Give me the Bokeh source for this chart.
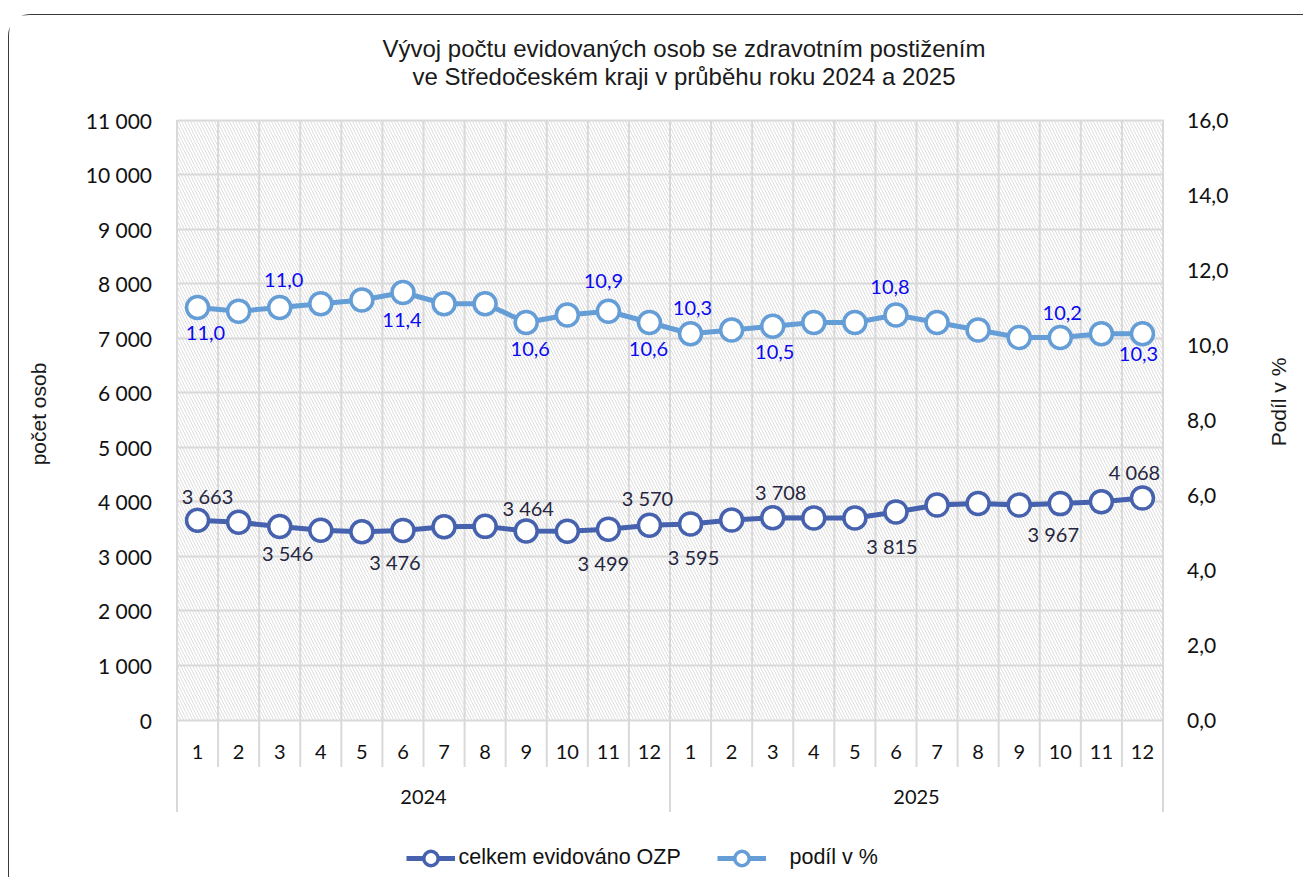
import numpy as np
from bokeh.plotting import figure
from bokeh.models import (Range1d, LinearAxis, FixedTicker, Grid, Legend, LegendItem)
from bokeh.core.properties import value
from bokeh.embed import file_html
from bokeh.resources import INLINE

# ---------------- data ----------------
years = ["2024", "2025"]
months = [str(m) for m in range(1, 13)]
ozp = [3663, 3624, 3546, 3480, 3452, 3476, 3544, 3550, 3464, 3460, 3499, 3570,
       3595, 3665, 3708, 3705, 3705, 3815, 3940, 3970, 3940, 3967, 4000, 4068]
podil = [11.0, 10.9, 11.0, 11.1, 11.2, 11.4, 11.1, 11.1, 10.6, 10.8, 10.9, 10.6,
         10.3, 10.4, 10.5, 10.6, 10.6, 10.8, 10.6, 10.4, 10.2, 10.2, 10.3, 10.3]
labelled = [0, 2, 5, 8, 10, 11, 12, 14, 17, 21, 23]
left_ticks = list(range(0, 11001, 1000))
right_ticks = [0, 2, 4, 6, 8, 10, 12, 14, 16]
series_names = ["celkem evidováno OZP", "podíl v %"]
axis_titles = ["počet osob", "Podíl v %"]
title_lines = ["Vývoj počtu evidovaných osob se zdravotním postižením",
               "ve Středočeském kraji v průběhu roku 2024 a 2025"]

# ---------------- styling / geometry ----------------
OX, OY = 9.5, 15.5            # page position of canvas origin
FIG_W, FIG_H = 1295, 863
PX_L, PX_R = 177, 1163        # plot area (page px)
PX_TOP, PX_ZERO = 120, 720
YMAX, Y2MAX = 11000, 16
n = len(ozp)
ppx = (PX_R - PX_L) / n
ppy = (PX_ZERO - PX_TOP) / YMAX
ppy2 = (PX_ZERO - PX_TOP) / Y2MAX

def xd(px):
    return (px - PX_L) / ppx

def yd(py):
    return (PX_ZERO - py) / ppy

ozp_off = [(10, -24), (8, 26), (-8, 32), (2, -23), (-5, 34), (-2, -27),
           (3, 33), (8, -26), (-4, 34), (-7, 30), (-8, -26)]
pod_off = [(8, 25), (4, -28), (-1, 27), (4, 26), (-5, -30), (-1, 26),
           (2, -26), (2, 26), (-6, -28), (2, -25), (-4, 20)]

C_DARK = "#4662AE"
C_LIGHT = "#659DD6"
C_GRID = "#D9D9D9"
CAL = "Lato"
ARIAL = "Liberation Sans"

frame_bot_page = OY + FIG_H
x_rng = Range1d(xd(OX), xd(OX + FIG_W))
y_rng = Range1d(yd(frame_bot_page), yd(OY))
y2_rng = Range1d((PX_ZERO - frame_bot_page) / ppy2, (PX_ZERO - OY) / ppy2)

p = figure(width=FIG_W, height=FIG_H, output_backend="svg", toolbar_location=None,
           x_range=x_rng, y_range=y_rng, title=None,
           x_axis_location=None, y_axis_location=None,
           min_border_left=0, min_border_right=0, min_border_top=0, min_border_bottom=0)
p.extra_y_ranges = {"pct": y2_rng}
p.outline_line_color = None
p.background_fill_color = "white"
p.border_fill_color = "white"
p.xgrid.visible = False
p.ygrid.visible = False
p.styles = {"border-top": "1.5px solid #3a3a3a", "border-left": "1.5px solid #3a3a3a",
            "border-top-left-radius": "22px", "margin-top": "14px", "margin-left": "8px"}

# axes (fixed at the plot-area edges)
la = LinearAxis(fixed_location=0, ticker=FixedTicker(ticks=left_ticks),
                major_label_overrides={t: (f"{t:,}".replace(",", " ")) for t in left_ticks})
ra = LinearAxis(fixed_location=n, y_range_name="pct", ticker=FixedTicker(ticks=right_ticks),
                major_label_overrides={t: f"{t:.1f}".replace(".", ",") for t in right_ticks})
for ax, st in ((la, 25), (ra, 24)):
    ax.axis_line_color = None
    ax.major_tick_line_color = None
    ax.minor_tick_line_color = None
    ax.major_tick_out = 0
    ax.major_tick_in = 0
    ax.minor_tick_out = 0
    ax.minor_tick_in = 0
    ax.major_label_standoff = st
    ax.major_label_text_font = CAL
    ax.major_label_text_font_size = "21px"
    ax.major_label_text_color = "#111111"
p.add_layout(la, "left")
p.add_layout(ra, "right")

# hatched plot area
p.quad(left=0, right=n, bottom=0, top=YMAX, fill_color="white", line_color=None,
       hatch_pattern="\\", hatch_color="#DEDEDE", hatch_scale=6, hatch_weight=1.0,
       level="image")

# horizontal gridlines limited to the plot area
grid_ok = False
try:
    g = Grid(dimension=1, ticker=FixedTicker(ticks=left_ticks), grid_line_color=C_GRID,
             grid_line_width=2, cross_bounds=(0, n))
    p.add_layout(g)
    grid_ok = True
except AttributeError:
    grid_ok = False
if not grid_ok:
    p.segment(x0=[0] * len(left_ticks), x1=[n] * len(left_ticks), y0=left_ticks,
              y1=left_ticks, line_color=C_GRID, line_width=2, level="underlay")

bounds = list(range(0, n + 1))
short_b = [b for b in bounds if b % 12 != 0]
long_b = [b for b in bounds if b % 12 == 0]
p.segment(x0=short_b, x1=short_b, y0=[yd(767)] * len(short_b), y1=[YMAX] * len(short_b),
          line_color=C_GRID, line_width=2, level="underlay")
p.segment(x0=long_b, x1=long_b, y0=[yd(812)] * len(long_b), y1=[YMAX] * len(long_b),
          line_color=C_GRID, line_width=2, level="underlay")

xs = [i + 0.5 for i in range(n)]

# category labels
p.text(x=xs, y=[yd(752)] * n, text=months * len(years), text_font=value(CAL),
       text_font_size="20px", text_align="center", text_baseline="middle",
       text_color="#111111")
p.text(x=[6, 18], y=[yd(797)] * 2, text=years, text_font=value(CAL),
       text_font_size="20px", text_align="center", text_baseline="middle",
       text_color="#111111")

# series
l1 = p.line(xs, ozp, line_color=C_DARK, line_width=5)
s1 = p.scatter(xs, ozp, size=22, marker="circle", fill_color="white",
               line_color=C_DARK, line_width=3.5)
l2 = p.line(xs, podil, line_color=C_LIGHT, line_width=5, y_range_name="pct")
s2 = p.scatter(xs, podil, size=22, marker="circle", fill_color="white",
               line_color=C_LIGHT, line_width=3.5, y_range_name="pct")

# data labels
p.text(x=[xs[i] for i in labelled], y=[ozp[i] for i in labelled],
       text=[f"{ozp[i]:,}".replace(",", " ") for i in labelled],
       x_offset=[o[0] for o in ozp_off], y_offset=[o[1] for o in ozp_off],
       text_font=value(CAL), text_font_size="20px", text_align="center",
       text_baseline="middle", text_color="#262640")
p.text(x=[xs[i] for i in labelled], y=[podil[i] for i in labelled],
       text=[f"{podil[i]:.1f}".replace(".", ",") for i in labelled],
       x_offset=[o[0] for o in pod_off], y_offset=[o[1] for o in pod_off],
       text_font=value(CAL), text_font_size="20px", text_align="center",
       text_baseline="middle", text_color="#0A0AF0", y_range_name="pct")

# title
p.text(x=[xd(684)] * 2, y=[yd(48), yd(76)], text=title_lines, text_font=value(ARIAL),
       text_font_size="24px", text_align="center", text_baseline="middle",
       text_color="#1a1a1a")

# axis titles
p.text(x=[xd(38), xd(1278)], y=[yd(414), yd(402)], text=axis_titles, angle=np.pi / 2,
       text_font=value(ARIAL), text_font_size="21px", text_align="center",
       text_baseline="middle", text_color="#1a1a1a")

# legends (location = bottom-left corner, px from frame bottom-left)
leg_h = 36
leg_center = 858
for rends, name, lx, stand in (((l1, s1), series_names[0], 406, 4),
                               ((l2, s2), series_names[1], 717, 24)):
    lg = Legend(items=[LegendItem(label=name, renderers=list(rends))],
                location=(lx - OX, frame_bot_page - (leg_center + leg_h / 2)),
                orientation="horizontal",
                glyph_width=49, glyph_height=leg_h, label_height=leg_h, label_standoff=stand,
                padding=0, margin=0, spacing=0, background_fill_alpha=0,
                border_line_color=None, label_text_font=ARIAL,
                label_text_font_size="21.5px", label_text_color="#111111")
    p.add_layout(lg)

open("out.html", "w").write(file_html(p, INLINE))
